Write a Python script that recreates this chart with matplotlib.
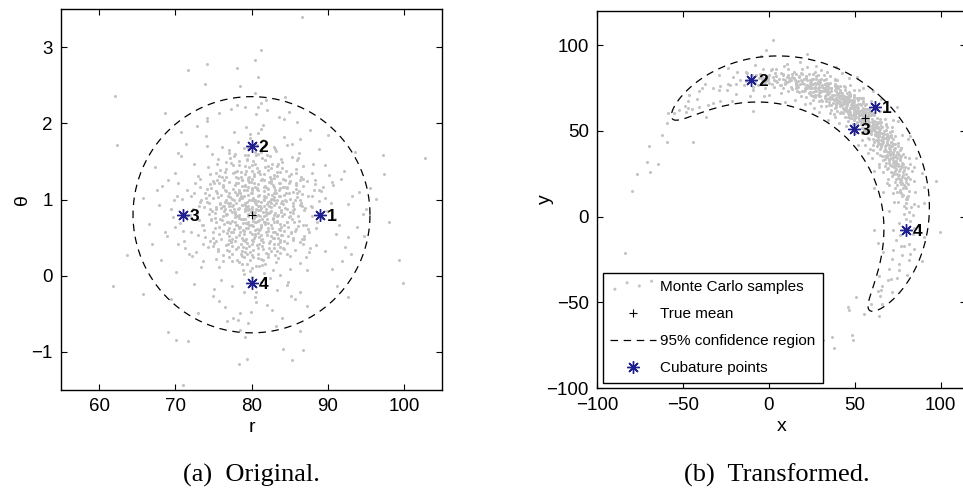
"""plot.py — Monte Carlo samples vs cubature points, polar -> cartesian."""

import numpy as np
import matplotlib
matplotlib.use("Agg")
import matplotlib.pyplot as plt

# ---- data -------------------------------------------------------------
# Monte Carlo samples (r, theta)
mc_samples = [
    # outliers
    (86.6, 3.39), (81.3, 2.96), (80.5, 2.83), (74.1, 2.78), (71.7, 2.70), (78.1, 2.72),
    (62.1, 2.36), (62.4, 1.72), (68.7, 2.13), (73.9, 2.51), (78.5, 2.49), (80.8, 2.61),
    (61.8, -0.13), (63.7, 0.27), (69.0, -0.74), (70.1, -0.85), (71.0, -1.44), (78.4, -1.16),
    (79.4, -1.09), (84.1, -0.96), (85.3, -1.11), (86.8, -0.97), (71.7, -0.86), (65.7, -0.24),
    (102.8, 1.55), (97.2, 1.59), (97.4, 1.34), (98.1, 0.71), (99.3, 0.21), (99.9, -0.09),
    (96.4, 1.01), (92.6, -0.28), (86.4, -0.73),
    # bulk of the cloud
    (78.3, 0.62), (84.1, 1.17), (75.6, 0.35), (81.9, 0.88), (70.2, 1.04), (86.7, 0.41), (79.4, 1.52),
    (82.8, 0.07), (76.9, 0.95), (88.3, 1.26), (73.1, 0.73), (80.6, -0.21), (85.2, 0.58), (77.7, 1.89),
    (83.4, 0.99), (71.8, 0.28), (79.9, 0.84), (91.5, 0.66), (74.6, 1.33), (81.2, 0.47),
    (82.5, 1.41), (76.2, 0.19), (80.1, 1.08), (87.9, 0.79), (73.9, 0.51), (84.7, -0.12), (78.8, 0.93),
    (69.4, 0.87), (83.1, 1.66), (77.3, 0.44), (81.6, 0.71), (75.1, 1.22), (89.6, 0.33), (79.0, 0.02),
    (86.0, 1.03), (72.5, 1.47), (80.9, 0.56), (84.3, 2.05), (76.6, 0.81), (82.2, 0.25),
    (79.7, 1.29), (85.5, 0.86), (74.2, 0.97), (81.4, 0.14), (77.1, 1.61), (88.8, 1.12), (71.0, 0.59),
    (83.7, 0.38), (80.3, 0.76), (75.8, -0.33), (86.9, 0.52), (78.1, 1.37), (82.0, 0.94), (93.2, 1.05),
    (76.4, 0.68), (84.0, 1.49), (68.2, 1.18), (80.8, 0.29), (79.2, 2.21), (73.4, 0.12),
    (81.1, 0.91), (77.5, 0.48), (84.9, 1.31), (72.9, 0.83), (80.4, 1.74), (86.3, 0.17), (75.3, 1.11),
    (79.6, 0.63), (90.4, 0.95), (82.7, -0.45), (78.5, 1.02), (74.9, 0.39), (83.3, 0.72), (70.7, 1.57),
    (85.8, 1.19), (79.1, 0.31), (81.8, 1.43), (76.0, 0.89), (87.4, 0.61), (80.0, -0.02),
    (83.9, 0.54), (75.5, 1.46), (79.8, 0.21), (88.0, 1.35), (73.6, 0.67), (81.5, 1.98), (77.9, 0.77),
    (85.1, 0.09), (80.7, 1.15), (70.4, 0.42), (82.4, 0.98), (76.8, 0.56), (84.6, 1.72), (78.2, -0.58),
    (90.9, 0.74), (74.4, 1.06), (80.2, 0.45), (86.6, 0.92), (72.2, 0.26), (82.9, 1.28),
    (77.0, 1.09), (81.3, 0.66), (86.1, 1.55), (74.8, 0.85), (79.3, 0.36), (83.6, 1.21), (69.8, 0.99),
    (80.5, -0.28), (85.4, 0.47), (76.1, 1.69), (82.3, 0.82), (78.7, 0.15), (89.1, 1.11), (73.0, 0.53),
    (81.0, 1.38), (75.9, 0.94), (87.2, 0.24), (79.5, 0.71), (84.4, 2.34), (77.6, 0.58),
    (80.8, 1.13), (72.7, 0.31), (85.0, 0.79), (78.4, 1.51), (83.0, 0.41), (76.5, 0.97), (91.8, 1.27),
    (79.0, 0.55), (74.0, 1.83), (81.7, 0.03), (87.0, 0.89), (77.2, 0.69), (82.6, 1.24), (70.0, 0.64),
    (80.1, 0.88), (84.8, -0.08), (75.4, 0.22), (79.7, 1.42), (86.4, 1.00), (73.3, 1.16),
    (82.1, 0.59), (78.0, 0.96), (75.0, 1.24), (85.7, 0.34), (80.6, 1.58), (71.5, 0.78), (83.8, 1.04),
    (77.4, -0.14), (88.6, 0.70), (79.2, 1.19), (74.5, 0.46), (81.9, 0.84), (84.2, 1.82), (76.3, 0.27),
    (92.7, 0.51), (80.3, 1.33), (73.8, 0.90), (86.8, 1.44), (78.9, 0.08), (82.8, 0.74),
    (79.4, 0.43), (84.5, 1.09), (76.7, 0.80), (81.2, 1.62), (87.5, 0.57), (73.2, 1.27), (80.0, 0.99),
    (83.2, 0.18), (77.8, 1.36), (89.9, 0.85), (75.7, 0.64), (82.0, -0.39), (78.6, 1.05), (71.3, 0.37),
    (85.9, 1.21), (80.9, 0.72), (74.1, 2.03), (83.5, 0.50), (79.1, 0.93), (86.2, 1.61),
    (81.6, 1.17), (77.1, 0.33), (83.9, 0.86), (72.4, 1.09), (80.2, 0.65), (88.1, 1.47), (75.2, 0.76),
    (79.8, 1.81), (84.6, 0.28), (78.3, 0.89), (68.9, 0.52), (82.4, 1.30), (76.0, -0.05), (86.5, 0.96),
    (80.7, 0.40), (74.3, 1.42), (83.0, 1.03), (78.9, 0.60), (94.6, 0.81), (81.4, 1.54),
    (76.4, 0.91), (82.9, 0.49), (79.5, 1.26), (85.3, 1.73), (73.7, 0.19), (80.4, 0.83), (87.7, 0.36),
    (77.6, 1.14), (81.8, 0.68), (75.6, 1.53), (84.1, 0.94), (79.0, -0.22), (70.9, 1.01), (83.6, 0.61),
    (78.1, 0.78), (86.7, 1.18), (80.6, 2.12), (74.7, 0.73), (82.2, 1.07), (77.3, 0.44),
    (80.5, 0.97), (85.6, 0.70), (78.2, 0.38), (83.3, 1.36), (74.6, 1.20), (81.0, 0.13), (88.9, 0.98),
    (76.8, 0.81), (79.6, 1.68), (72.1, 0.57), (84.3, 0.35), (80.1, 1.12), (77.0, 0.62), (86.0, 1.52),
    (82.5, 0.85), (75.1, -0.18), (90.2, 1.32), (79.3, 0.48), (83.8, 0.01), (78.7, 1.25),
    (82.7, 1.06), (79.1, 0.75), (75.9, 1.39), (84.0, 0.53), (80.8, 0.23), (77.4, 1.01), (86.9, 0.86),
    (73.5, 0.66), (81.5, 1.78), (78.8, 0.32), (89.4, 1.16), (76.2, 0.92), (83.1, 0.58), (80.0, 1.45),
    (71.6, 1.13), (85.2, -0.26), (79.7, 0.87), (74.9, 0.49), (82.3, 1.23), (87.3, 0.07),
    (78.0, 1.21), (83.4, 0.79), (80.3, 0.50), (75.3, 0.87), (85.8, 1.40), (81.9, 0.30), (77.7, 1.57),
    (88.4, 0.63), (79.2, 0.96), (73.0, 1.31), (84.7, 0.70), (80.9, 1.87), (76.6, 0.40), (82.6, 1.01),
    (69.7, 0.77), (86.3, 0.44), (78.5, -0.49), (81.1, 0.92), (74.2, 1.70), (83.7, 1.15),
    (84.4, 0.89), (76.9, 0.60), (81.7, 1.34), (79.4, 0.16), (86.6, 1.07), (74.0, 1.02), (80.6, 0.79),
    (83.2, 1.63), (77.8, 0.45), (91.1, 0.55), (75.5, 1.26), (82.1, 0.69), (78.4, 1.10), (85.0, 0.26),
    (72.8, 0.82), (80.2, 1.50), (87.8, 0.91), (79.9, -0.10), (76.3, 1.19), (83.5, 0.42),
    (79.0, 1.04), (82.3, 0.37), (77.2, 0.86), (84.9, 1.22), (80.4, 0.70), (75.7, 0.11), (86.4, 1.79),
    (78.6, 1.29), (81.3, 0.54), (73.9, 1.08), (83.9, 0.95), (80.0, 0.27), (88.2, 1.12), (76.7, 1.49),
    (82.8, 0.76), (70.6, 0.69), (85.5, 0.50), (79.3, 1.95), (81.6, 1.00), (77.5, 0.19),
    (81.0, 0.73), (76.1, 1.30), (83.6, 1.05), (79.7, 0.39), (87.1, 0.67), (74.4, 0.95), (80.7, 1.41),
    (85.2, 1.34), (78.3, 0.64), (82.4, -0.03), (75.0, 0.58), (89.7, 1.02), (79.5, 0.81), (84.2, 0.46),
    (77.0, 1.65), (81.8, 1.18), (72.3, 0.88), (86.1, 0.78), (80.1, 0.55), (78.8, 1.26),
    (83.0, 1.32), (77.9, 0.84), (80.5, 1.16), (75.4, 0.46), (84.8, 0.64), (81.2, 1.93), (79.0, 0.24),
    (86.8, 1.27), (73.4, 1.00), (82.0, 0.53), (78.1, 1.07), (88.5, 0.40), (80.8, 0.91), (76.5, 1.36),
    (84.5, 0.98), (71.2, 0.45), (79.6, 0.68), (83.3, -0.19), (77.3, 1.48), (81.9, 0.80),
    (80.3, 0.99), (85.4, 1.10), (78.5, 0.57), (82.2, 0.82), (76.2, 1.18), (87.6, 0.31), (79.3, 1.37),
    (74.7, 0.74), (83.8, 0.47), (80.9, 1.60), (77.6, 0.93), (90.7, 1.19), (81.5, 0.35), (75.8, 0.55),
    (84.0, 1.41), (79.8, 0.06), (73.1, 0.92), (86.2, 0.72), (78.2, 1.76), (82.6, 0.96),
    (81.4, 0.48), (77.0, 1.23), (84.3, 0.67), (79.9, 1.09), (86.5, 1.30), (74.3, 0.38), (82.7, 1.47),
    (78.6, 0.74), (80.2, 0.25), (75.6, 1.03), (88.7, 0.80), (83.1, 1.12), (79.1, 0.87), (72.6, 1.21),
    (85.7, 0.59), (80.6, -0.35), (76.9, 0.70), (82.9, 1.69), (78.0, 0.51), (93.8, 0.64),
    (79.5, 0.78), (83.5, 0.23), (76.6, 1.11), (81.6, 1.01), (85.1, 0.83), (78.4, 1.45), (73.6, 0.41),
    (80.0, 0.66), (87.3, 1.24), (82.0, 1.58), (75.2, 0.82), (84.6, 0.43), (79.2, 1.18), (77.4, 0.29),
    (81.1, 0.86), (70.3, 1.22), (86.0, 1.09), (80.4, 0.97), (74.8, 1.60), (83.7, 0.60),
    (82.4, 0.84), (78.7, 1.02), (80.1, 0.42), (75.9, 0.75), (84.4, 1.26), (77.1, 0.52), (81.7, 1.05),
    (86.9, 0.48), (79.6, 1.28), (73.2, 0.97), (83.4, 0.71), (80.7, 1.71), (76.4, 1.25), (88.0, 0.90),
    (78.1, 0.20), (82.8, 1.19), (85.6, 0.88), (79.0, 0.59), (71.9, 0.80), (81.3, -0.08),
    (80.9, 1.20), (76.8, 0.71), (83.0, 0.93), (78.9, 0.47), (85.9, 0.61), (81.4, 1.27), (74.5, 0.88),
    (79.4, 1.53), (87.4, 1.04), (82.5, 0.32), (77.7, 0.99), (80.3, 0.77), (84.7, 1.15), (75.1, 0.43),
    (79.8, 1.86), (83.9, 0.84), (72.0, 1.04), (81.0, 0.41), (89.3, 0.76), (78.3, 1.13),
    (77.9, 0.81), (82.2, 1.14), (79.3, 0.63), (84.1, 0.37), (80.5, 1.00), (75.3, 1.35), (86.3, 0.93),
    (78.8, 0.26), (83.3, 1.44), (81.1, 0.61), (76.0, 1.06), (88.3, 1.20), (80.0, 0.90), (73.8, 0.60),
    (82.6, 0.52), (79.7, 1.23), (85.3, 1.56), (77.2, 1.03), (81.8, 0.15), (84.9, 0.77),
    (80.6, 0.87), (78.3, 0.53), (82.9, 1.00), (76.3, 0.79), (84.2, 1.17), (79.2, 1.34), (81.5, 0.44),
    (74.1, 1.14), (86.7, 0.66), (80.1, 1.15), (77.8, 1.60), (83.7, 0.30), (79.5, 0.92), (75.6, 0.32),
    (85.4, 0.92), (81.2, 0.97), (78.0, 1.30), (87.9, 1.05), (82.1, 0.63), (76.7, 1.00),
    (66.5, 0.68), (94.1, 1.10), (79.6, -0.62), (81.3, 2.27), (68.1, 0.21), (92.3, 0.38), (67.3, 1.43),
    (93.6, 1.62), (78.5, -0.71), (82.0, 2.18), (65.8, 1.02), (95.0, 0.88), (84.0, -0.55), (75.8, 2.14),
    (69.5, -0.30), (91.2, -0.13), (70.8, 1.88), (90.1, 1.84), (76.8, -0.60), (86.0, 2.02),
    (67.9, 0.93), (92.6, 0.94), (73.0, -0.49), (87.3, -0.40), (71.4, 1.73), (88.9, 1.66), (74.2, 2.07),
    (84.9, 2.15), (66.9, 0.41), (94.8, 0.52), (79.1, -0.80), (80.4, 2.40), (69.1, 1.26), (91.9, 0.19),
    (72.5, -0.11), (89.6, 1.45), (77.6, -0.55), (83.2, -0.66), (70.1, 0.05), (90.5, 1.23),
    (76.5, -0.41), (85.7, -0.30), (72.9, 1.97), (87.7, 1.91), (68.7, 0.57), (93.0, 0.28), (81.9, 2.31),
    (78.1, 2.24), (70.4, 1.61), (90.6, 0.09), (74.9, -0.26), (86.4, -0.22), (69.9, 1.35), (92.2, 1.37),
    (77.3, 2.19), (83.6, 2.08), (67.6, 1.12), (95.6, 1.15), (79.9, -0.47), (80.8, 2.22),
    # dense core
    (79.6, 0.86), (81.9, 0.57), (77.4, 0.92), (83.2, 1.09), (80.3, 1.31), (78.6, 0.41), (82.5, 0.67),
    (76.3, 1.17), (84.0, 0.78), (80.9, 0.98), (79.1, 1.44), (81.5, 0.21), (75.2, 0.62), (85.1, 1.24),
    (77.9, 0.71), (82.9, 0.36), (80.4, 0.52), (78.2, 1.22), (83.9, 1.53), (76.8, 0.34),
    (81.0, 1.06), (79.3, 0.69), (84.6, 0.88), (77.0, 0.47), (82.1, 1.39), (80.6, 0.13), (75.9, 0.96),
    (83.4, 0.55), (78.5, 1.08), (81.7, 0.79), (86.1, 0.65), (79.9, 1.23), (74.4, 0.81), (82.7, 1.01),
    (80.2, 0.34), (77.6, 1.35), (84.3, 1.06), (78.9, 0.74), (81.2, 1.64), (83.1, 0.27),
    (78.4, 0.99), (82.3, 0.91), (80.7, 0.61), (76.1, 0.73), (83.8, 1.22), (79.4, 0.28), (81.6, 1.11),
    (77.2, 1.55), (85.3, 0.74), (80.0, 0.84), (78.8, 0.50), (82.8, 0.58), (75.5, 1.09), (84.5, 1.38),
    (79.7, 1.00), (81.4, 0.39), (77.7, 0.87), (83.6, 0.90), (80.5, 1.47), (78.1, 0.66),
    (82.0, 0.74), (79.0, 1.13), (84.2, 0.59), (76.7, 1.29), (80.8, 0.80), (78.3, 0.18), (83.0, 1.16),
    (81.3, 0.89), (74.9, 1.02), (85.7, 0.99), (79.8, 0.58), (77.5, 0.83), (82.6, 1.27), (80.1, 0.10),
    (76.0, 0.48), (83.5, 0.80), (81.1, 1.33), (78.7, 0.93), (86.4, 1.25), (79.4, 0.97),
    (80.2, 0.72), (82.9, 1.08), (78.0, 0.66), (84.8, 0.52), (79.5, 1.06), (81.8, 1.52), (76.5, 0.88),
    (83.3, 0.33), (80.6, 0.94), (77.9, 1.19), (85.0, 1.01), (79.2, 0.45), (82.2, 0.97), (75.7, 1.31),
    (81.0, 0.60), (78.6, 1.36), (83.7, 0.68), (80.3, 1.21), (77.1, 0.24), (84.1, 1.27),
    (81.5, 0.83), (78.9, 0.38), (80.0, 1.27), (83.6, 1.12), (76.9, 1.04), (82.4, 0.45), (79.7, 0.67),
    (85.5, 0.82), (77.3, 0.57), (80.9, 1.36), (78.2, 0.88), (84.4, 0.99), (81.2, 0.22), (75.4, 0.71),
    (83.1, 0.82), (79.5, 1.58), (82.7, 0.62), (76.6, 1.40), (80.5, 0.55), (86.6, 0.48),
    (79.3, 0.90), (81.7, 1.25), (77.8, 1.10), (83.9, 0.64), (80.1, 0.47), (78.4, 0.76), (82.9, 0.80),
    (76.2, 0.59), (84.7, 1.16), (80.8, 1.04), (79.0, 1.67), (82.3, 0.43), (74.7, 1.15), (81.4, 0.74),
    (85.9, 1.35), (78.0, 0.35), (83.2, 0.96), (80.4, 0.60), (77.0, 0.91), (82.1, 1.44),
    (80.7, 1.14), (78.5, 0.64), (83.4, 1.31), (81.0, 0.51), (76.4, 0.85), (82.6, 0.90), (79.8, 0.31),
    (84.9, 1.08), (77.6, 1.45), (80.3, 0.81), (81.8, 0.70), (78.1, 1.06), (85.2, 0.56), (79.6, 1.17),
    (75.8, 1.21), (83.8, 0.44), (80.0, 0.99), (82.4, 1.57), (77.4, 0.72), (81.3, 1.26),
    (79.9, 0.66), (84.0, 0.98), (78.2, 1.28), (81.6, 0.92), (76.9, 0.42), (83.0, 0.71), (80.5, 1.62),
    (79.1, 0.85), (82.5, 1.21), (77.7, 0.61), (85.8, 1.14), (80.2, 1.02), (78.6, 0.29), (83.5, 1.47),
    (81.1, 0.78), (75.3, 0.90), (82.8, 0.50), (79.4, 1.12), (84.6, 0.71), (80.9, 0.37),
    (81.9, 1.03), (77.2, 0.95), (80.6, 0.70), (83.7, 1.36), (78.8, 1.18), (82.2, 0.28), (79.6, 0.88),
    (85.4, 0.95), (76.5, 1.13), (81.3, 0.64), (80.0, 1.37), (78.3, 0.80), (84.3, 0.81), (82.0, 1.15),
    (77.5, 0.39), (80.8, 0.86), (83.4, 0.55), (79.2, 1.59), (86.2, 1.11), (78.9, 0.69),
]

mean_orig = (80.0, 0.8)          # true mean, left panel
mean_trans = (55.7, 57.4)        # true mean, right panel
conf_center = (80.0, 0.8)        # 95% confidence ellipse
conf_semi = (15.55, 1.55)

cub_r = [89.0, 80.0, 71.0, 80.0]
cub_th = [0.8, 1.7, 0.8, -0.1]
cub_labels = ["1", "2", "3", "4"]

# ---- style ------------------------------------------------------------
plt.rcParams["font.family"] = ["Liberation Sans", "DejaVu Sans"]
GREY = "#c4c4c4"
NAVY = "#1f1f8f"
STAR = (8, 2, 0)
DASH = (0, (6, 4.5))
SERIF = ["Liberation Serif", "DejaVu Serif"]

mc = np.array(mc_samples)
r_mc, th_mc = mc[:, 0], mc[:, 1]
x_mc, y_mc = r_mc * np.cos(th_mc), r_mc * np.sin(th_mc)

t = np.linspace(0, 2 * np.pi, 400)
r_ell = conf_center[0] + conf_semi[0] * np.cos(t)
th_ell = conf_center[1] + conf_semi[1] * np.sin(t)

cub_r = np.array(cub_r)
cub_th = np.array(cub_th)
cub_x, cub_y = cub_r * np.cos(cub_th), cub_r * np.sin(cub_th)


def style_axes(ax):
    ax.tick_params(direction="in", top=True, right=True, length=4, width=0.8,
                   labelsize=13.5, pad=6)
    for s in ax.spines.values():
        s.set_linewidth(1.0)


def draw(ax, xs, ys, mean, ex, ey, cx, cy):
    ax.scatter(xs, ys, s=5, c=GREY, linewidths=0, label="Monte Carlo samples", zorder=1)
    ax.plot([mean[0]], [mean[1]], "+", color="black", ms=6, mew=0.8, label="True mean", zorder=3)
    ax.plot(ex, ey, color="black", lw=0.9, linestyle=DASH, label="95% confidence region", zorder=2)
    ax.plot(cx, cy, linestyle="none", marker=STAR, color=NAVY, ms=9, mew=1.0,
            label="Cubature points", zorder=4)
    for px, py, lab in zip(cx, cy, cub_labels):
        ax.annotate(lab, (px, py), xytext=(5, -1), textcoords="offset points",
                    ha="left", va="center", fontsize=12.5, fontweight="bold")


fig = plt.figure(figsize=(9.63, 4.88), dpi=100)

# left: original space
ax1 = fig.add_axes([61 / 963, 98 / 488, 381 / 963, 381 / 488])
draw(ax1, r_mc, th_mc, mean_orig, r_ell, th_ell, cub_r, cub_th)
ax1.set_xlim(55, 105)
ax1.set_ylim(-1.5, 3.5)
ax1.set_xticks([60, 70, 80, 90, 100])
ax1.set_yticks([-1, 0, 1, 2, 3])
ax1.set_xlabel("r", fontsize=14, labelpad=3)
ax1.set_ylabel("θ", fontsize=14, labelpad=0)
style_axes(ax1)

# right: transformed space
ax2 = fig.add_axes([597.3 / 963, 99.7 / 488, 369 / 963, 377.6 / 488])
draw(ax2, x_mc, y_mc, mean_trans, r_ell * np.cos(th_ell), r_ell * np.sin(th_ell), cub_x, cub_y)
ax2.set_xlim(-100, 115)
ax2.set_ylim(-100, 120)
ax2.set_xticks([-100, -50, 0, 50, 100])
ax2.set_yticks([-100, -50, 0, 50, 100])
ax2.set_xlabel("x", fontsize=14, labelpad=3)
ax2.set_ylabel("y", fontsize=14, labelpad=-5)
style_axes(ax2)

leg = ax2.legend(loc="lower left", fontsize=11, scatterpoints=4,
                 scatteryoffsets=[0.2, 0.8, 0.5, 0.95], numpoints=1,
                 handlelength=3.0, handletextpad=0.25, labelspacing=0.85,
                 borderpad=0.5, borderaxespad=0.35, fancybox=False,
                 edgecolor="black", framealpha=1)
leg.get_frame().set_linewidth(1.0)

fig.text(251 / 963, 1 - 475 / 488, "(a)  Original.", ha="center", va="center",
         fontsize=19, family=SERIF)
fig.text(777 / 963, 1 - 475 / 488, "(b)  Transformed.", ha="center", va="center",
         fontsize=19, family=SERIF)

fig.savefig("out.png", dpi=100)
